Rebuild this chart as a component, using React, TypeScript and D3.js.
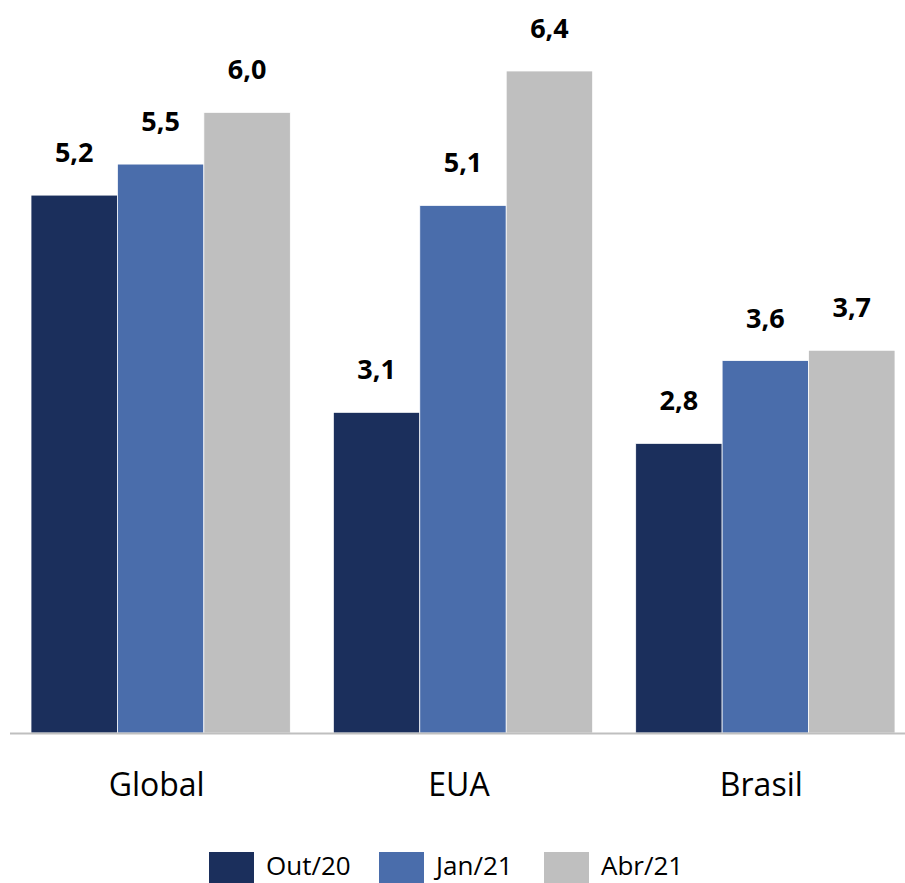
import React from "react";
import * as d3 from "d3";

const categories = ["Global", "EUA", "Brasil"];
const seriesNames = ["Out/20", "Jan/21", "Abr/21"];
const out20 = [5.2, 3.1, 2.8];
const jan21 = [5.5, 5.1, 3.6];
const abr21 = [6.0, 6.4, 3.7];
const colors = ["#1b2f5c", "#4a6dab", "#bfbfbf"];

const W = 905;
const H = 883;
const FONT = "'Open Sans', 'Liberation Sans', sans-serif";

export default function App() {
  const series = [out20, jan21, abr21];
  const baseY = 733;
  const y = d3.scaleLinear().domain([0, 6.4]).range([baseY, 71]);
  const x0 = d3
    .scaleBand<string>()
    .domain(categories)
    .range([10, 916])
    .paddingInner(0.1424)
    .paddingOuter(0.0695);
  const x1 = d3
    .scaleBand<string>()
    .domain(seriesNames)
    .range([0, x0.bandwidth()])
    .padding(0);
  const fmt = (v: number) => d3.format(".1f")(v).replace(".", ",");

  const legendX = [209, 379, 544];

  return (
    <svg
      width={W}
      height={H}
      style={{ position: "absolute", left: 0, top: 0, background: "#fff" }}
    >
      {categories.map((c, ci) => (
        <g key={c} transform={`translate(${x0(c)},0)`}>
          {seriesNames.map((s, si) => {
            const v = series[si][ci];
            const bx = x1(s)!;
            return (
              <g key={s}>
                <rect
                  x={bx}
                  y={y(v)}
                  width={x1.bandwidth()}
                  height={baseY - y(v)}
                  fill={colors[si]}
                  stroke="#ffffff"
                  strokeWidth={0.75}
                />
                <text
                  x={bx + x1.bandwidth() / 2}
                  y={y(v) - 33}
                  textAnchor="middle"
                  fontFamily={FONT}
                  fontWeight="bold"
                  fontSize={27}
                  fill="#000"
                >
                  {fmt(v)}
                </text>
              </g>
            );
          })}
          <text
            x={x0.bandwidth() / 2 - 4}
            y={796}
            textAnchor="middle"
            fontFamily={FONT}
            fontSize={32}
            fill="#000"
          >
            {c}
          </text>
        </g>
      ))}
      <line x1={10} x2={W} y1={baseY + 0.5} y2={baseY + 0.5} stroke="#bfbfbf" strokeWidth={2} />
      {seriesNames.map((s, si) => (
        <g key={s} transform={`translate(${legendX[si]},852)`}>
          <rect x={0} y={0} width={45} height={31} fill={colors[si]} />
          <text x={57} y={23} fontFamily={FONT} fontSize={26} fill="#000">
            {s}
          </text>
        </g>
      ))}
    </svg>
  );
}
